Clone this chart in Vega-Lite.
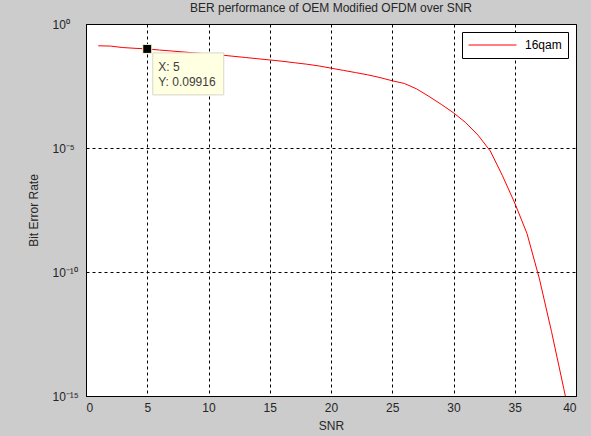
{
  "$schema": "https://vega.github.io/schema/vega-lite/v6.json",
  "width": 490,
  "height": 372,
  "autosize": {"type": "none"},
  "padding": {"left": 86, "top": 24, "right": 15, "bottom": 40},
  "background": "#cccccc",
  "title": {
    "text": "BER performance of OEM Modified OFDM over SNR",
    "font": "Liberation Sans",
    "fontSize": 12,
    "fontWeight": "normal",
    "color": "#262626",
    "anchor": "middle",
    "baseline": "bottom",
    "offset": 0,
    "dy": 9
  },
  "config": {
    "view": {"fill": "white", "stroke": "#000000", "strokeWidth": 1},
    "axis": {
      "labelFont": "Liberation Sans",
      "labelFontSize": 12,
      "labelColor": "#262626",
      "titleFont": "Liberation Sans",
      "titleFontSize": 12,
      "titleFontWeight": "normal",
      "titleColor": "#262626",
      "ticks": false,
      "domainColor": "#000000",
      "grid": true,
      "gridColor": "#000000",
      "gridOpacity": 1,
      "gridDash": [3, 3],
      "gridWidth": 1
    },
    "legend": {
      "labelFont": "Liberation Sans",
      "labelFontSize": 12,
      "labelColor": "#000000"
    }
  },
  "datasets": {
    "ber": [
      {"SNR": 1, "BER": 0.1318, "series": "16qam"},
      {"SNR": 2, "BER": 0.1288, "series": "16qam"},
      {"SNR": 3, "BER": 0.1122, "series": "16qam"},
      {"SNR": 4, "BER": 0.1047, "series": "16qam"},
      {"SNR": 5, "BER": 0.09916, "series": "16qam"},
      {"SNR": 6, "BER": 0.0891, "series": "16qam"},
      {"SNR": 7, "BER": 0.0813, "series": "16qam"},
      {"SNR": 8, "BER": 0.0741, "series": "16qam"},
      {"SNR": 9, "BER": 0.0676, "series": "16qam"},
      {"SNR": 10, "BER": 0.0617, "series": "16qam"},
      {"SNR": 11, "BER": 0.0562, "series": "16qam"},
      {"SNR": 12, "BER": 0.0501, "series": "16qam"},
      {"SNR": 13, "BER": 0.0447, "series": "16qam"},
      {"SNR": 14, "BER": 0.0398, "series": "16qam"},
      {"SNR": 15, "BER": 0.0355, "series": "16qam"},
      {"SNR": 16, "BER": 0.0316, "series": "16qam"},
      {"SNR": 17, "BER": 0.0275, "series": "16qam"},
      {"SNR": 18, "BER": 0.024, "series": "16qam"},
      {"SNR": 19, "BER": 0.0204, "series": "16qam"},
      {"SNR": 20, "BER": 0.0166, "series": "16qam"},
      {"SNR": 21, "BER": 0.0135, "series": "16qam"},
      {"SNR": 22, "BER": 0.011, "series": "16qam"},
      {"SNR": 23, "BER": 0.00891, "series": "16qam"},
      {"SNR": 24, "BER": 0.00692, "series": "16qam"},
      {"SNR": 25, "BER": 0.00513, "series": "16qam"},
      {"SNR": 26, "BER": 0.00398, "series": "16qam"},
      {"SNR": 27, "BER": 0.0024, "series": "16qam"},
      {"SNR": 28, "BER": 0.0012, "series": "16qam"},
      {"SNR": 29, "BER": 0.000575, "series": "16qam"},
      {"SNR": 30, "BER": 0.000263, "series": "16qam"},
      {"SNR": 31, "BER": 0.000105, "series": "16qam"},
      {"SNR": 32, "BER": 3.3e-5, "series": "16qam"},
      {"SNR": 33, "BER": 7.6e-6, "series": "16qam"},
      {"SNR": 34, "BER": 7.59e-7, "series": "16qam"},
      {"SNR": 35, "BER": 6.03e-8, "series": "16qam"},
      {"SNR": 36, "BER": 3.55e-9, "series": "16qam"},
      {"SNR": 37, "BER": 5.62e-11, "series": "16qam"},
      {"SNR": 38, "BER": 3.98e-13, "series": "16qam"},
      {"SNR": 39, "BER": 2.0e-15, "series": "16qam"},
      {"SNR": 40, "BER": 1.0e-17, "series": "16qam"}
    ],
    "tip": [
      {"SNR": 5, "BER": 0.09916, "tip": "X: 5\nY: 0.09916"}
    ]
  },
  "layer": [
    {
      "data": {"name": "ber"},
      "mark": {"type": "line", "strokeWidth": 1, "clip": true},
      "encoding": {
        "x": {
          "field": "SNR",
          "type": "quantitative",
          "scale": {"domain": [0, 40], "nice": false, "zero": false},
          "axis": {"values": [0, 5, 10, 15, 20, 25, 30, 35, 40], "labelPadding": 6, "title": "SNR", "titlePadding": 7}
        },
        "y": {
          "field": "BER",
          "type": "quantitative",
          "scale": {"type": "log", "domain": [1e-15, 1], "nice": false},
          "axis": {
            "values": [1e-15, 1e-10, 1e-5, 1],
            "labelExpr": "datum.value >= 0.5 ? '10⁰' : datum.value >= 1e-6 ? '10⁻⁵' : datum.value >= 1e-11 ? '10⁻¹⁰' : '10⁻¹⁵'",
            "labelAlign": "left",
            "labelPadding": 34,
            "title": "Bit Error Rate",
            "titlePadding": 12
          }
        },
        "color": {
          "field": "series",
          "type": "nominal",
          "scale": {"range": ["#ff0000"]},
          "legend": {
            "title": null,
            "orient": "top-right",
            "offset": 8,
            "fillColor": "white",
            "strokeColor": "#000000",
            "padding": 6,
            "symbolType": "stroke",
            "symbolSize": 2300,
            "symbolStrokeWidth": 1,
            "clipHeight": 14,
            "labelOffset": 8
          }
        }
      }
    },
    {
      "data": {"name": "tip"},
      "mark": {"type": "rect", "width": 71, "height": 42, "xOffset": 41, "yOffset": 25, "fill": "#ffffe1", "stroke": "#d8d8c8", "strokeWidth": 1},
      "encoding": {
        "x": {"field": "SNR", "type": "quantitative"},
        "y": {"field": "BER", "type": "quantitative"}
      }
    },
    {
      "data": {"name": "tip"},
      "mark": {"type": "point", "shape": "square", "size": 81, "filled": true, "fill": "#000000", "stroke": "#ffffcc", "strokeWidth": 1, "opacity": 1},
      "encoding": {
        "x": {"field": "SNR", "type": "quantitative"},
        "y": {"field": "BER", "type": "quantitative"}
      }
    },
    {
      "data": {"name": "tip"},
      "mark": {"type": "text", "align": "left", "baseline": "middle", "dx": 11, "dy": 18, "font": "Liberation Sans", "fontSize": 12, "lineHeight": 15.5, "lineBreak": "\n", "color": "#404040"},
      "encoding": {
        "x": {"field": "SNR", "type": "quantitative"},
        "y": {"field": "BER", "type": "quantitative"},
        "text": {"field": "tip", "type": "nominal"}
      }
    }
  ]
}
